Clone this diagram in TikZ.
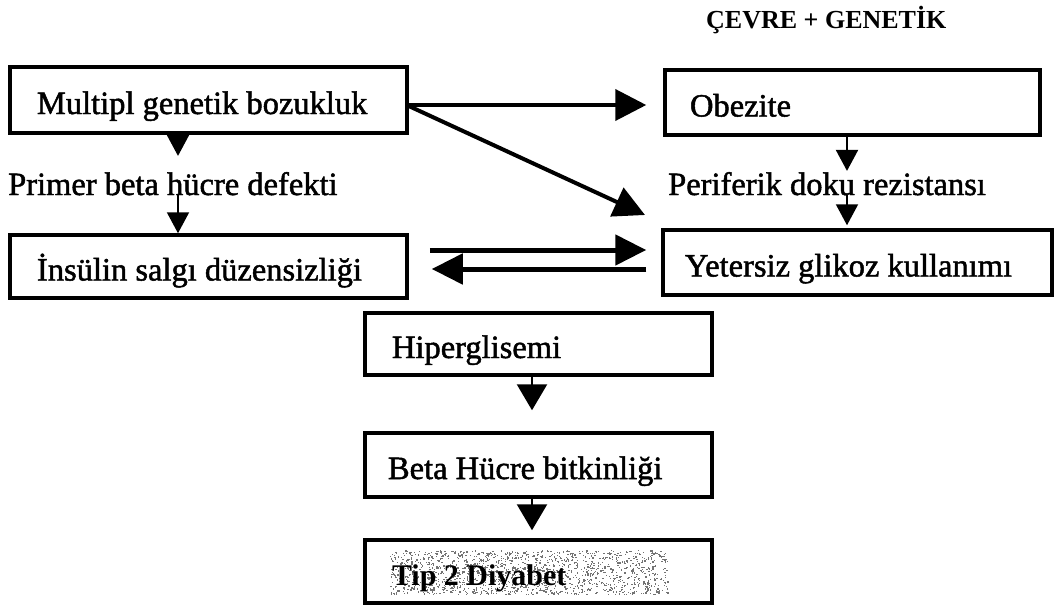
\documentclass[tikz,border=0pt]{standalone}
\usepackage{fontspec}
\setmainfont{Liberation Serif}
\usetikzlibrary{arrows.meta}

\tikzset{
  body font/.style={font=\fontsize{32.5}{36}\selectfont\addfontfeature{FakeBold=1.5}},
  box/.style={draw, line width=3.5pt, inner ysep=0pt, align=flush left,
              text height=28pt, text depth=0pt, body font},
  lbl/.style={inner sep=0pt, body font},
  thin arr/.style={line width=2pt, -{Triangle[length=21pt,width=22pt]}},
  big arr/.style={line width=4pt, -{Triangle[length=31pt,width=31pt]}},
  dbl arr/.style={line width=5pt, -{Triangle[length=31pt,width=30pt]}},
  mid arr/.style={line width=2.5pt, -{Triangle[length=26pt,width=30pt]}},
}

\begin{document}
\begin{tikzpicture}[x=1pt, y=-1pt]
\useasboundingbox (0,0) rectangle (1061,616);

% title
\node[inner sep=0pt, anchor=base west, font=\fontsize{26}{30}\selectfont\bfseries]
  (title) at (706,28) {ÇEVRE + GENETİK};

% boxes
\node[box, minimum width=397pt, minimum height=66pt, inner xsep=27pt, text width=343pt]
  (m) at (208.5,100) {Multipl genetik bozukluk};
\node[box, minimum width=397pt, minimum height=63pt, inner xsep=27pt, text width=343pt]
  (ins) at (208.5,266.5) {İnsülin salgı düzensizliği};
\node[box, minimum width=375pt, minimum height=65pt, inner xsep=25pt, text width=325pt]
  (ob) at (852.5,102.5) {Obezite};
\node[box, minimum width=389pt, minimum height=65pt, inner xsep=22pt, text width=345pt]
  (ye) at (857.5,262.5) {Yetersiz glikoz kullanımı};
\node[box, minimum width=347pt, minimum height=62pt, inner xsep=27pt, text width=293pt]
  (hip) at (538.5,344) {Hiperglisemi};
\node[box, minimum width=347pt, minimum height=64pt, inner xsep=23pt, text width=301pt]
  (beta) at (538.5,465) {Beta Hücre bitkinliği};

% grainy shading behind the last label
\pgfmathsetseed{7}
\foreach \i in {1,...,1500} {
  \pgfmathsetmacro{\px}{390+278*rnd}
  \pgfmathsetmacro{\py}{550+44*rnd}
  \fill[black!55] (\px,\py) rectangle ++(1.3,1.3);
}
\node[box, minimum width=347pt, minimum height=63pt, inner xsep=27pt, text width=293pt,
      font=\fontsize{30}{34}\selectfont\bfseries]
  (tip) at (538.5,571.5) {Tip 2 Diyabet};

% free labels
\node[lbl, anchor=base west] (pr) at (8,195) {Primer beta hücre defekti};
\node[lbl, anchor=base west] (pe) at (668,195) {Periferik doku rezistansı};

% x positions of the vertical connectors
\coordinate (lx) at (178,0);
\coordinate (rx) at (847,0);
\coordinate (cx) at (532,0);
\coordinate (dtip) at (645,215);

% left column
\draw[thin arr, shorten >=16pt] (m.south -| lx) -- (pr.north -| lx);
\draw[thin arr] (pr.base -| lx) -- (ins.north -| lx);

% right column
\draw[thin arr, shorten >=1pt] (ob.south -| rx) -- (pe.north -| rx);
\draw[thin arr, shorten >=3pt] (pe.base -| rx) -- (ye.north -| rx);

% from the top-left box
\draw[big arr, shorten >=17pt] (m.east |- 0,105) -- (ob.west |- 0,105);
\draw[big arr] (m.east |- 0,106) -- (dtip);

% two-way link
\draw[dbl arr, shorten <=21pt, shorten >=15pt] (ins.east |- 0,250) -- (ye.west |- 0,250);
\draw[dbl arr, shorten <=15pt, shorten >=23pt] (ye.west |- 0,269) -- (ins.east |- 0,269);

% central column
\draw[mid arr, shorten >=21pt] (hip.south -| cx) -- (beta.north -| cx);
\draw[mid arr, shorten >=8pt] (beta.south -| cx) -- (tip.north -| cx);
\end{tikzpicture}
\end{document}
